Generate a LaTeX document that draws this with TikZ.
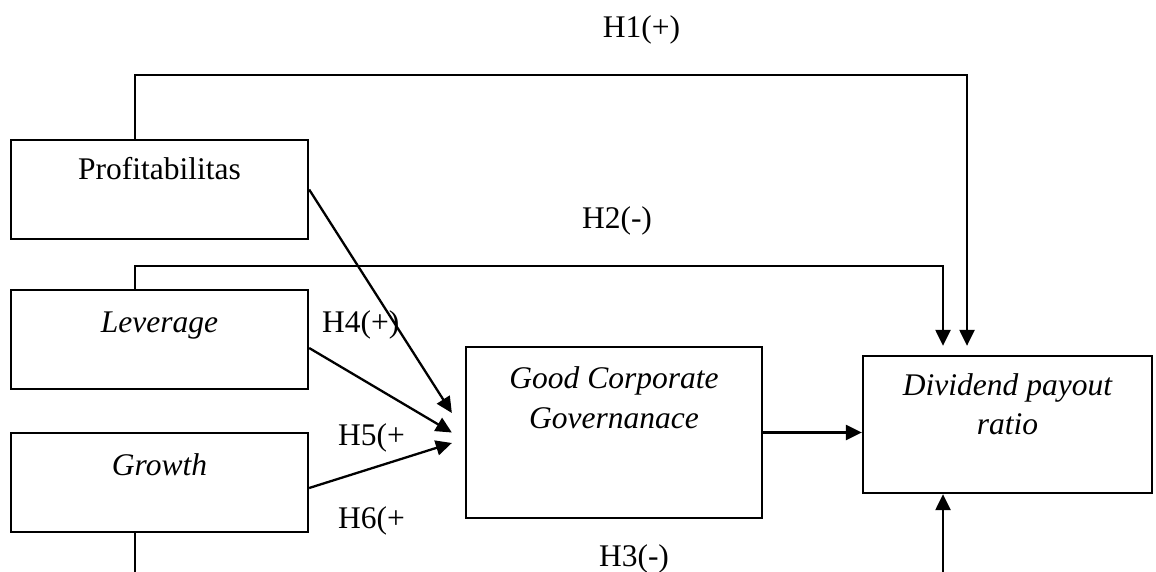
\documentclass[tikz,border=0pt]{standalone}
\usepackage{fontspec}
\setmainfont{Liberation Serif}
\usetikzlibrary{arrows.meta}
\begin{document}
\begin{tikzpicture}[x=1pt,y=-1pt,
  box/.style={draw, line width=2.3pt, minimum width=297pt, minimum height=99pt, inner sep=0pt, anchor=center},
  lbl/.style={font=\fontsize{31.5}{39}\selectfont, inner sep=0pt, anchor=base},
  arr/.style={-{Triangle[length=16pt,width=15pt]}, line width=2.3pt},
  ln/.style={line width=2.3pt}]
\useasboundingbox (0,0) rectangle (1156,572);
\coordinate (bot) at (0,572);
% boxes
\node[box] (prof) at (159.5,189.5) {};
\node[box] (lev) at (159.5,339.5) {};
\node[box] (gro) at (159.5,482.5) {};
\node[box, minimum width=296pt, minimum height=171pt] (gcg) at (614,432.5) {};
\node[box, minimum width=289pt, minimum height=137pt] (div) at (1007.5,424.5) {};
% box texts
\node[lbl] (tprof) at (159.5,180) {Profitabilitas};
\node[lbl] (tlev) at (159.5,332) {\itshape Leverage};
\node[lbl] (tgro) at (159.5,475) {\itshape Growth};
\node[lbl] (tgcga) at (614,388) {\itshape Good Corporate};
\node[lbl] (tgcgb) at (614,428) {\itshape Governanace};
\node[lbl] (tdiva) at (1007.5,395) {\itshape Dividend payout};
\node[lbl] (tdivb) at (1007.5,434) {\itshape ratio};
% arrows into GCG
\draw[arr] (prof.east) -- ([xshift=-13pt,yshift=19.5pt]gcg.west);
\draw[arr] ([yshift=-8.5pt]lev.east) -- ([xshift=-13pt]gcg.west);
\draw[arr] ([yshift=-5.5pt]gro.east) -- ([xshift=-13pt,yshift=-10.5pt]gcg.west);
\draw[arr] (gcg.east) -- (gcg.east -| div.west);
% H1, H2
\draw[arr] ([xshift=-24.5pt]prof.north) -- ++(0,-64) -| ([xshift=-40.5pt,yshift=9pt]div.north);
\draw[arr] ([xshift=-24.5pt]lev.north) -- ++(0,-23) -| ([xshift=-64.5pt,yshift=9pt]div.north);
% H3
\path ([xshift=-24.5pt]gro.south) coordinate (gs);
\draw[ln] (gs) -- (gs |- bot);
\path ([xshift=-64.5pt]div.south) coordinate (ds);
\draw[arr] (ds |- bot) -- (ds);
% labels
\node[lbl] (h1) at (641.5,38) {H1(+)};
\node[lbl] (h2) at (617,228) {H2(-)};
\node[lbl] (h3) at (634,566) {H3(-)};
\node[lbl, anchor=base west] (h4) at (322,332) {H4(+)};
\node[lbl, anchor=base west] (h5) at (338,445) {H5(+};
\node[lbl, anchor=base west] (h6) at (338,528) {H6(+};
\end{tikzpicture}
\end{document}
